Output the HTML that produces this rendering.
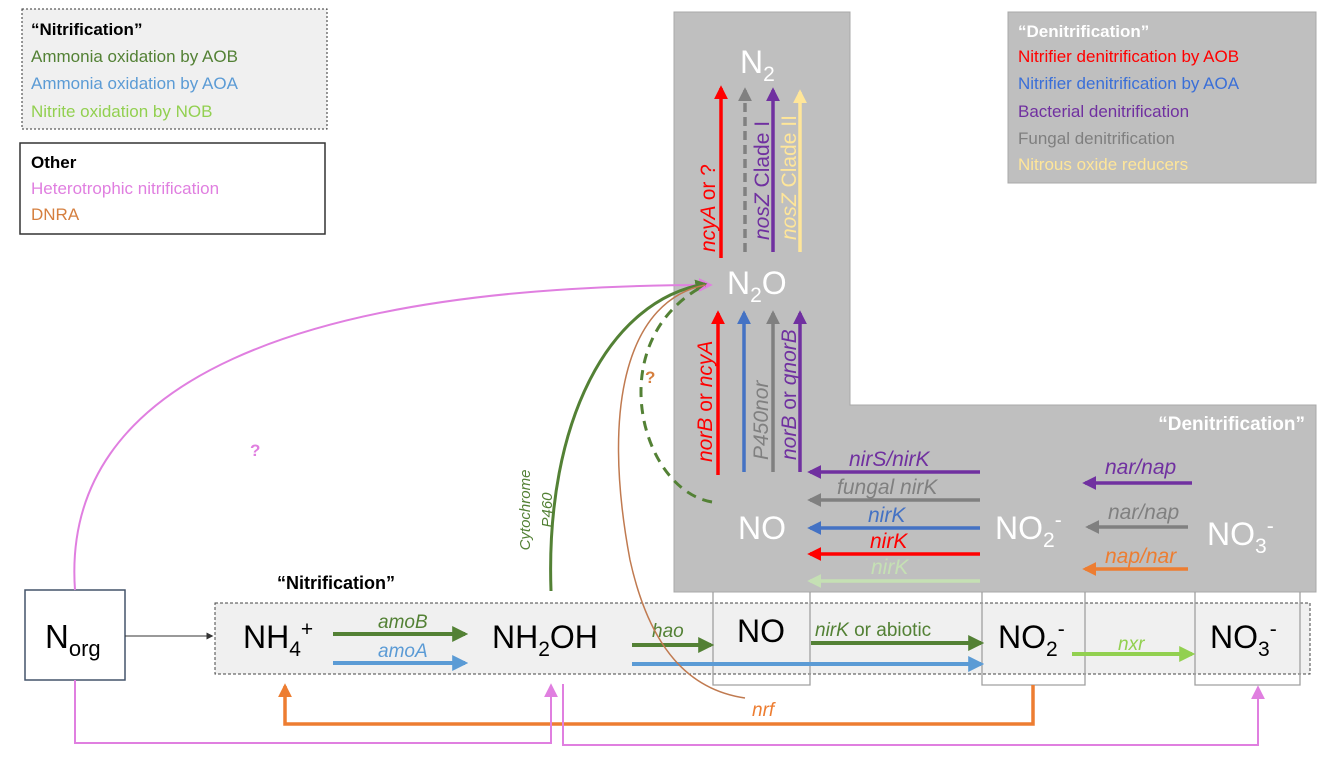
<!DOCTYPE html>
<html><head><meta charset="utf-8"><style>
html,body{margin:0;padding:0;background:#fff;}
svg{display:block;font-family:"Liberation Sans",sans-serif;}
</style></head><body>
<svg width="1333" height="759" viewBox="0 0 1333 759">
<defs>
<marker id="m" viewBox="0 0 10 10" refX="8" refY="5" markerWidth="4" markerHeight="4" orient="auto-start-reverse" markerUnits="strokeWidth"><path d="M0,0 L10,5 L0,10 z" fill="context-stroke"/></marker>
<marker id="ms" viewBox="0 0 10 10" refX="8" refY="5" markerWidth="7" markerHeight="7" orient="auto" markerUnits="strokeWidth"><path d="M0,0 L10,5 L0,10 z" fill="context-stroke"/></marker>
</defs>
<path d="M674,12 H850 V405 H1316 V592 H674 Z" fill="#bfbfbf" stroke="#a8a8a8"/>
<rect x="1008" y="12" width="308" height="171" fill="#bfbfbf" stroke="#a8a8a8"/>
<rect x="22" y="9" width="305" height="120" fill="#f0f0f0" stroke="#333" stroke-dasharray="2,2"/>
<g font-size="17">
<text x="31" y="35" font-weight="bold">“Nitrification”</text>
<text x="31" y="62" fill="#538135">Ammonia oxidation by AOB</text>
<text x="31" y="89" fill="#5b9bd5">Ammonia oxidation by AOA</text>
<text x="31" y="117" fill="#92d050">Nitrite oxidation by NOB</text>
</g>
<rect x="20" y="143" width="305" height="91" fill="#fff" stroke="#333" stroke-width="1.5"/>
<g font-size="17">
<text x="31" y="168" font-weight="bold">Other</text>
<text x="31" y="194" fill="#e07fe0">Heterotrophic nitrification</text>
<text x="31" y="220" fill="#d57f3f">DNRA</text>
</g>
<g font-size="17">
<text x="1018" y="37" font-weight="bold" fill="#fff">“Denitrification”</text>
<text x="1018" y="62" fill="#ff0000">Nitrifier denitrification by AOB</text>
<text x="1018" y="89" fill="#3a6fd8">Nitrifier denitrification by AOA</text>
<text x="1018" y="117" fill="#7030a0">Bacterial denitrification</text>
<text x="1018" y="144" fill="#7f7f7f">Fungal denitrification</text>
<text x="1018" y="170" fill="#ffe699">Nitrous oxide reducers</text>
</g>
<text x="1305" y="430" font-size="19" font-weight="bold" fill="#fff" text-anchor="end">“Denitrification”</text>
<rect x="215" y="603" width="1095" height="71" fill="#f0f0f0" stroke="#444" stroke-dasharray="3,2"/>
<path d="M713,592 V685 H810 V592 M982,592 V685 H1085 V592 M1195,592 V685 H1300 V592" fill="none" stroke="#a0a0a0" stroke-width="1.3"/>
<text x="277" y="589" font-size="18" font-weight="bold">“Nitrification”</text>
<rect x="25" y="590" width="100" height="90" fill="#fff" stroke="#44546a" stroke-width="1.5"/>
<text x="45" y="648" font-size="33">N<tspan font-size="22" dy="8">org</tspan></text>
<line x1="125" y1="636" x2="212" y2="636" stroke="#333" stroke-width="1" marker-end="url(#ms)"/>
<g font-size="32" fill="#000">
<text x="243" y="648">NH<tspan font-size="21" dy="8">4</tspan><tspan font-size="21" dy="-20">+</tspan></text>
<text x="492" y="648">NH<tspan font-size="21" dy="8">2</tspan><tspan dy="-8">OH</tspan></text>
<text x="737" y="642">NO</text>
<text x="998" y="648">NO<tspan font-size="21" dy="8">2</tspan><tspan font-size="21" dy="-20">-</tspan></text>
<text x="1210" y="648">NO<tspan font-size="21" dy="8">3</tspan><tspan font-size="21" dy="-20">-</tspan></text>
</g>
<g font-size="32" fill="#fff">
<text x="740" y="73">N<tspan font-size="21" dy="8">2</tspan></text>
<text x="727" y="294">N<tspan font-size="21" dy="8">2</tspan><tspan dy="-8">O</tspan></text>
<text x="738" y="539">NO</text>
<text x="995" y="539">NO<tspan font-size="21" dy="8">2</tspan><tspan font-size="21" dy="-20">-</tspan></text>
<text x="1207" y="545">NO<tspan font-size="21" dy="8">3</tspan><tspan font-size="21" dy="-20">-</tspan></text>
</g>
<g stroke-width="4" fill="none">
<line x1="333" y1="634" x2="465" y2="634" stroke="#538135" marker-end="url(#m)"/>
<line x1="333" y1="663" x2="465" y2="663" stroke="#5b9bd5" marker-end="url(#m)"/>
<line x1="632" y1="645" x2="711" y2="645" stroke="#538135" marker-end="url(#m)"/>
<line x1="632" y1="664" x2="981" y2="664" stroke="#5b9bd5" marker-end="url(#m)"/>
<line x1="811" y1="643" x2="981" y2="643" stroke="#538135" marker-end="url(#m)"/>
<line x1="1072" y1="654" x2="1192" y2="654" stroke="#92d050" marker-end="url(#m)"/>
</g>
<g font-size="19">
<text x="378" y="628" fill="#538135" font-style="italic">amoB</text>
<text x="378" y="657" fill="#5b9bd5" font-style="italic">amoA</text>
<text x="652" y="637" fill="#538135" font-style="italic">hao</text>
<text x="815" y="636" fill="#538135"><tspan font-style="italic">nirK</tspan> or abiotic</text>
<text x="1118" y="650" fill="#92d050" font-style="italic">nxr</text>
</g>
<g stroke-width="3.5" fill="none">
<line x1="721" y1="258" x2="721" y2="88" stroke="#ff0000" marker-end="url(#m)"/>
<line x1="745" y1="252" x2="745" y2="90" stroke="#808080" stroke-dasharray="9,5" marker-end="url(#m)"/>
<line x1="773" y1="252" x2="773" y2="90" stroke="#7030a0" marker-end="url(#m)"/>
<line x1="800" y1="252" x2="800" y2="92" stroke="#ffe699" marker-end="url(#m)"/>
<line x1="718" y1="475" x2="718" y2="313" stroke="#ff0000" marker-end="url(#m)"/>
<line x1="744" y1="472" x2="744" y2="313" stroke="#4472c4" marker-end="url(#m)"/>
<line x1="773" y1="472" x2="773" y2="313" stroke="#808080" marker-end="url(#m)"/>
<line x1="800" y1="472" x2="800" y2="313" stroke="#7030a0" marker-end="url(#m)"/>
<line x1="980" y1="472" x2="810" y2="472" stroke="#7030a0" marker-end="url(#m)"/>
<line x1="980" y1="500" x2="810" y2="500" stroke="#808080" marker-end="url(#m)"/>
<line x1="980" y1="528" x2="810" y2="528" stroke="#4472c4" marker-end="url(#m)"/>
<line x1="980" y1="554" x2="810" y2="554" stroke="#ff0000" marker-end="url(#m)"/>
<line x1="980" y1="581" x2="810" y2="581" stroke="#c5e0b4" marker-end="url(#m)"/>
<line x1="1192" y1="483" x2="1085" y2="483" stroke="#7030a0" marker-end="url(#m)"/>
<line x1="1188" y1="527" x2="1088" y2="527" stroke="#808080" marker-end="url(#m)"/>
<line x1="1188" y1="569" x2="1085" y2="569" stroke="#ed7d31" marker-end="url(#m)"/>
</g>
<g font-size="21" font-style="italic">
<text transform="translate(715,252) rotate(-90)" fill="#ff0000">ncyA <tspan font-style="normal">or ?</tspan></text>
<text transform="translate(769,240) rotate(-90)" fill="#7030a0">nosZ <tspan font-style="normal">Clade I</tspan></text>
<text transform="translate(796,240) rotate(-90)" fill="#ffe699">nosZ <tspan font-style="normal">Clade II</tspan></text>
<text transform="translate(712,462) rotate(-90)" fill="#ff0000">norB <tspan font-style="normal">or</tspan> ncyA</text>
<text transform="translate(768,460) rotate(-90)" fill="#808080">P450nor</text>
<text transform="translate(796,460) rotate(-90)" fill="#7030a0">norB <tspan font-style="normal">or</tspan> qnorB</text>
<text x="849" y="466" fill="#7030a0">nirS/nirK</text>
<text x="837" y="494" fill="#808080">fungal nirK</text>
<text x="868" y="522" fill="#4472c4">nirK</text>
<text x="870" y="548" fill="#ff0000">nirK</text>
<text x="871" y="574" fill="#c5e0b4">nirK</text>
<text x="1105" y="474" fill="#7030a0">nar/nap</text>
<text x="1108" y="519" fill="#808080">nar/nap</text>
<text x="1105" y="563" fill="#ed7d31">nap/nar</text>
</g>
<path d="M75,590 C60,380 300,285 710,285" stroke="#e07fe0" stroke-width="2" fill="none" marker-end="url(#ms)"/>
<text x="250" y="456" font-size="17" font-weight="bold" fill="#e07fe0">?</text>
<path d="M551,591 C545,420 610,300 705,284" stroke="#538135" stroke-width="3" fill="none" marker-end="url(#m)"/>
<path d="M712,502 C640,490 600,340 705,285" stroke="#538135" stroke-width="3" stroke-dasharray="10,7" fill="none"/>
<path d="M705,285 C630,300 600,400 630,560 C650,650 690,690 745,698" stroke="#c07a50" stroke-width="1.5" fill="none"/>
<text x="645" y="383" font-size="17" font-weight="bold" fill="#d57f3f">?</text>
<text transform="translate(530,510) rotate(-90)" font-size="15" font-style="italic" fill="#538135" text-anchor="middle">Cytochrome</text>
<text transform="translate(552,510) rotate(-90)" font-size="15" font-style="italic" fill="#538135" text-anchor="middle">P460</text>
<text x="752" y="716" font-size="19" font-style="italic" fill="#ed7d31">nrf</text>
<path d="M1033,685 V724 H285 V686" stroke="#ed7d31" stroke-width="3.5" fill="none" marker-end="url(#m)"/>
<path d="M75,680 V743 H551 V686" stroke="#e07fe0" stroke-width="2" fill="none" marker-end="url(#ms)"/>
<path d="M563,684 V745 H1258 V688" stroke="#e07fe0" stroke-width="2" fill="none" marker-end="url(#ms)"/>
</svg>
</body></html>
